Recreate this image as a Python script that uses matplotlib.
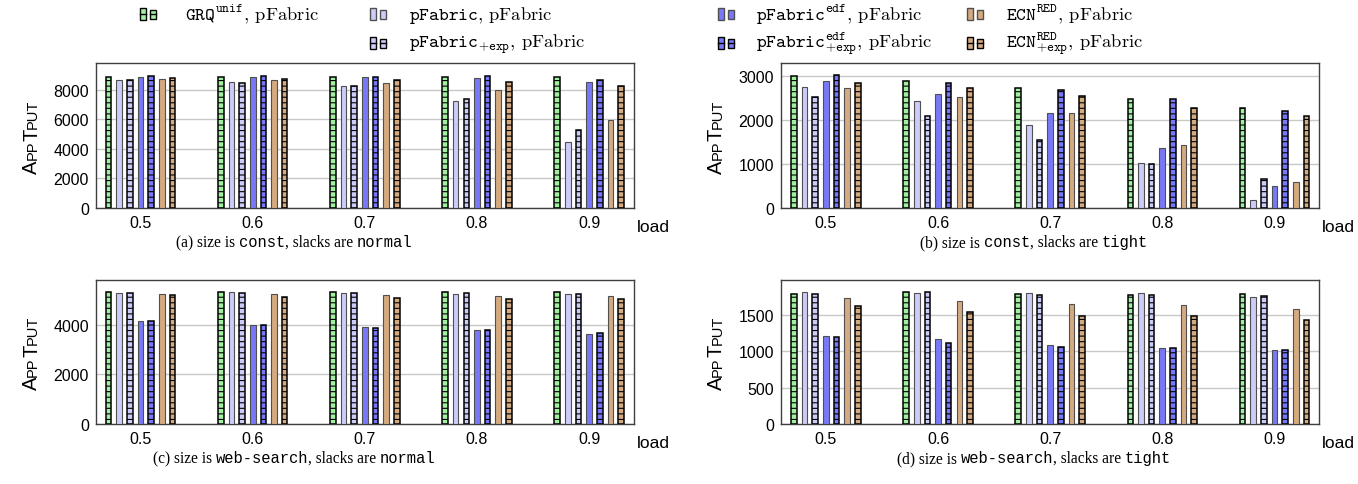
import numpy as np
import matplotlib
matplotlib.use('Agg')
from matplotlib import pyplot as plt
from matplotlib.patches import Rectangle

plt.rcParams['mathtext.fontset'] = 'cm'
plt.rcParams['hatch.linewidth'] = 0.8

loads = ['0.5', '0.6', '0.7', '0.8', '0.9']

# order: GRQ, pFabric, pFabric+exp, pFabric edf, pFabric edf+exp, ECN, ECN+exp
vals_a = [
	[8890, 8710, 8710, 8890, 8930, 8750, 8840],
	[8890, 8550, 8500, 8890, 8930, 8660, 8775],
	[8890, 8260, 8260, 8890, 8890, 8500, 8660],
	[8890, 7270, 7380, 8820, 8930, 7990, 8550],
	[8890, 4500, 5290, 8550, 8710, 5940, 8280],
]
vals_b = [
	[3000, 2750, 2520, 2880, 3015, 2725, 2850],
	[2890, 2425, 2090, 2600, 2840, 2520, 2735],
	[2725, 1890, 1540, 2155, 2680, 2165, 2535],
	[2470, 1015, 1000, 1365, 2475, 1425, 2270],
	[2280, 175, 650, 510, 2200, 600, 2100],
]
vals_c = [
	[5320, 5310, 5290, 4175, 4175, 5270, 5200],
	[5320, 5320, 5280, 4010, 4010, 5250, 5140],
	[5320, 5280, 5280, 3905, 3880, 5210, 5080],
	[5320, 5265, 5290, 3810, 3810, 5160, 5040],
	[5320, 5250, 5265, 3640, 3690, 5160, 5070],
]
vals_d = [
	[1789, 1812, 1793, 1216, 1202, 1730, 1619],
	[1812, 1803, 1812, 1170, 1120, 1697, 1541],
	[1789, 1798, 1775, 1083, 1060, 1656, 1490],
	[1771, 1803, 1775, 1046, 1050, 1638, 1490],
	[1784, 1748, 1757, 1018, 1018, 1583, 1436],
]

colors = ['#a0f0a0', '#ccccfa', '#ccccfa', '#7878f8', '#7878f8', '#d4aa80', '#d4aa80']
hatched = [True, False, True, False, True, False, True]

legend_labels = [
	r'$\mathtt{GRQ}^{\mathtt{unif}},\,\mathrm{pFabric}$',
	r'$\mathtt{pFabric},\,\mathrm{pFabric}$',
	r'$\mathtt{pFabric}_{\mathtt{+exp}},\,\mathrm{pFabric}$',
	r'$\mathtt{pFabric}^{\mathtt{edf}},\,\mathrm{pFabric}$',
	r'$\mathtt{pFabric}^{\mathtt{edf}}_{\mathtt{+exp}},\,\mathrm{pFabric}$',
	r'$\mathtt{ECN}^{\mathtt{RED}},\,\mathrm{pFabric}$',
	r'$\mathtt{ECN}^{\mathtt{RED}}_{\mathtt{+exp}},\,\mathrm{pFabric}$',
]

captions = [
	[('(a) size is ', 'serif'), ('const', 'mono'), (', slacks are ', 'serif'), ('normal', 'mono')],
	[('(b) size is ', 'serif'), ('const', 'mono'), (', slacks are ', 'serif'), ('tight', 'mono')],
	[('(c) size is ', 'serif'), ('web-search', 'mono'), (', slacks are ', 'serif'), ('normal', 'mono')],
	[('(d) size is ', 'serif'), ('web-search', 'mono'), (', slacks are ', 'serif'), ('tight', 'mono')],
]

W, H = 1358, 485
fig = plt.figure(figsize=(W/100, H/100), dpi=100)
renderer = fig.canvas.get_renderer()

fam = {'serif': 'Liberation Serif', 'mono': 'Liberation Mono', 'sans': 'Liberation Sans'}

def px(x, y):
	return x/W, 1 - y/H

def draw_pieces(cx, cy, pieces, size):
	# caption with mixed fonts, centred on cx (pixels), baseline cy
	texts = []
	total = 0
	for s, f in pieces:
		t = fig.text(0, 0, s, family=fam[f], fontsize=size, va='baseline', ha='left')
		w = t.get_window_extent(renderer).width
		texts.append((t, w))
		total += w
	x = cx - total/2
	for t, w in texts:
		t.set_position(px(x, cy))
		x += w

def draw_ylabel(cx, cy, size_big, size_small):
	pieces = [('A', size_big), ('PP', size_small), ('T', size_big), ('PUT', size_small)]
	ws = []
	for s, sz in pieces:
		t = fig.text(0, 0, s, family=fam['sans'], fontsize=sz)
		ws.append(t.get_window_extent(renderer).width)
		t.remove()
	y = cy + sum(ws)/2
	for (s, sz), w in zip(pieces, ws):
		fig.text(*px(cx, y), s, family=fam['sans'], fontsize=sz, rotation=90,
			rotation_mode='anchor', ha='left', va='baseline')
		y -= w

panels = [
	(vals_a, (95.7, 64, 634, 209), 9830, [0, 2000, 4000, 6000, 8000]),
	(vals_b, (781, 64, 1319.3, 209), 3295, [0, 1000, 2000, 3000]),
	(vals_c, (95.7, 280.7, 634, 425), 5830, [0, 2000, 4000]),
	(vals_d, (781, 280.7, 1319.3, 425), 1986, [0, 500, 1000, 1500]),
]
cap_pos = [(294, 247), (1034, 247), (294, 463), (1034, 463)]
ylab_x = [37, 722, 37, 722]

for k, (vals, box, ymax, yt) in enumerate(panels):
	l, t, r, b = box
	ax = fig.add_axes([l/W, 1 - b/H, (r - l)/W, (b - t)/H])
	v = np.array(vals)
	x = np.arange(len(loads))
	for j in range(7):
		if hatched[j]:
			ax.bar(x + (j - 3)*0.095, v[:, j], 0.05, color=colors[j], edgecolor='black',
				linewidth=1.1, hatch='---', zorder=3)
		else:
			ax.bar(x + (j - 3)*0.095, v[:, j], 0.05, color=colors[j], edgecolor='#505050',
				linewidth=0.8, zorder=3)
	ax.set_xlim(-0.4, 4.4)
	ax.set_ylim(0, ymax)
	ax.set_xticks(x)
	ax.set_xticklabels(loads)
	ax.set_yticks(yt)
	ax.tick_params(length=0, labelsize=11.5, pad=5)
	for lab in ax.get_xticklabels() + ax.get_yticklabels():
		lab.set_family(fam['sans'])
	ax.yaxis.grid(True, color='#c8c8c8', linewidth=1)
	ax.set_axisbelow(True)
	for s in ax.spines.values():
		s.set_color('#404040')
		s.set_linewidth(1)
	ax.text(1.005, -0.075, 'load', transform=ax.transAxes, ha='left', va='top',
		family=fam['sans'], fontsize=12.5)
	draw_ylabel(ylab_x[k], (t + b)/2, 14.5, 10.5)
	draw_pieces(cap_pos[k][0], cap_pos[k][1], captions[k], 11.2)

# legend drawn by hand: two small boxes + text per entry
leg_pos = [(140, 15), (370, 15), (370, 44), (718, 15), (718, 44), (967, 15), (967, 44)]
text_x = [185, 409, 409, 756, 756, 1006, 1006]
for j, (lx, ly) in enumerate(leg_pos):
	for dx, hh in [(0, 12), (10, 9)]:
		rect = Rectangle(px(lx + dx, ly + hh/2), 6/W, hh/H, transform=fig.transFigure,
			facecolor=colors[j], edgecolor='black' if hatched[j] else '#505050',
			linewidth=1.0)
		fig.patches.append(rect)
		if hatched[j]:
			fig.lines.append(plt.Line2D([(lx + dx)/W, (lx + dx + 6)/W], [1 - ly/H, 1 - ly/H],
				transform=fig.transFigure, color='black', linewidth=1.0))
	fig.text(*px(text_x[j], ly), legend_labels[j], fontsize=13.4, ha='left', va='center')

fig.savefig('out.png', dpi=100)
